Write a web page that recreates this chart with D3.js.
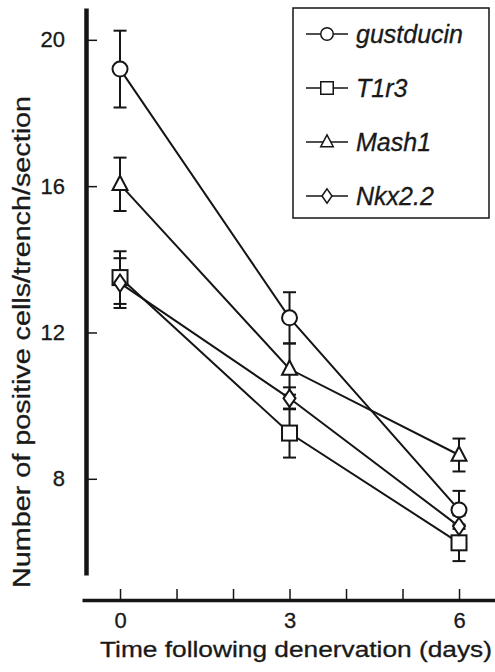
<!DOCTYPE html>
<html>
<head>
<meta charset="utf-8">
<script src="https://cdn.jsdelivr.net/npm/d3@7"></script>
<style>
  html, body { margin: 0; padding: 0; background: #fff; }
  svg { display: block; }
  text { font-family: "Liberation Sans", Arial, Helvetica, sans-serif; fill: #1a1a1a; }
</style>
</head>
<body>
<svg id="chart" width="495" height="672"></svg>
<script>
// ---- data ----
const days = [0, 3, 6];
const seriesNames = ["gustducin", "T1r3", "Mash1", "Nkx2.2"];
const symbols = ["circle", "square", "triangle", "diamond"];
const gustducin = [19.2, 12.4, 7.15];
const gustducinErr = [1.05, 0.7, 0.52];
const t1r3 = [13.5, 9.25, 6.25];
const t1r3Err = [0.72, 0.67, 0.5];
const mash1 = [16.05, 11.0, 8.65];
const mash1Err = [0.73, 0.7, 0.45];
const nkx22 = [13.35, 10.2, 6.7];
const nkx22Err = [0.68, 0.3, 0.3];
const xTickValues = [0, 1, 2, 3, 4, 5, 6];
const xTickLabels = ["0", "", "", "3", "", "", "6"];
const yTickValues = [8, 12, 16, 20];
const xTitle = "Time following denervation (days)";
const yTitle = "Number of positive cells/trench/section";

const seriesVals = [gustducin, t1r3, mash1, nkx22];
const seriesErrs = [gustducinErr, t1r3Err, mash1Err, nkx22Err];

const svg = d3.select("#chart");
const ink = "#151515";

const x = d3.scaleLinear().domain([-0.673, 6.637]).range([82, 495]);
const y = d3.scaleLinear().domain([5.37, 20.87]).range([575, 8]);

// ---- y axis ----
const yAxis = d3.axisLeft(y).tickValues(yTickValues).tickSize(-11).tickSizeOuter(0).tickPadding(21);
const gy = svg.append("g").attr("transform", `translate(86,0)`).call(yAxis);
gy.select(".domain").attr("stroke", ink).attr("stroke-width", 4.5);
gy.selectAll(".tick line").attr("stroke", ink).attr("stroke-width", 1.5);
gy.selectAll(".tick text").attr("font-size", 22).attr("fill", ink)
  .attr("stroke", ink).attr("stroke-width", 0.3)
  .style("font-family", '"Liberation Sans", Arial, sans-serif');

// ---- x axis ----
const xAxis = d3.axisBottom(x).tickValues(xTickValues).tickSize(-11).tickSizeOuter(0).tickPadding(12)
  .tickFormat((d, i) => xTickLabels[i]);
const gx = svg.append("g").attr("transform", `translate(0,600)`).call(xAxis);
gx.select(".domain").attr("stroke", ink).attr("stroke-width", 3.5);
gx.selectAll(".tick line").attr("stroke", ink).attr("stroke-width", 1.5);
gx.selectAll(".tick text").attr("font-size", 22).attr("fill", ink)
  .attr("stroke", ink).attr("stroke-width", 0.3)
  .style("font-family", '"Liberation Sans", Arial, sans-serif');

// ---- titles ----
svg.append("text").attr("x", 296).attr("y", 657).attr("text-anchor", "middle")
  .attr("font-size", 22).attr("textLength", 392).attr("lengthAdjust", "spacingAndGlyphs")
  .attr("stroke", ink).attr("stroke-width", 0.3)
  .text(xTitle);
svg.append("text").attr("transform", "translate(30,342) rotate(-90)").attr("text-anchor", "middle")
  .attr("font-size", 23).attr("textLength", 492).attr("lengthAdjust", "spacingAndGlyphs")
  .attr("stroke", ink).attr("stroke-width", 0.3)
  .text(yTitle);

// ---- marker drawing ----
function drawMarker(g, type, cx, cy, s) {
  if (type === "circle") {
    g.append("circle").attr("cx", cx).attr("cy", cy).attr("r", s / 2);
  } else if (type === "square") {
    g.append("rect").attr("x", cx - s / 2).attr("y", cy - s / 2).attr("width", s).attr("height", s);
  } else if (type === "triangle") {
    const h = s * 0.95;
    g.append("path").attr("d", `M${cx},${cy - h * 0.6}L${cx + s / 2},${cy + h * 0.4}L${cx - s / 2},${cy + h * 0.4}Z`);
  } else if (type === "diamond") {
    const w = s * 0.8, h = s * 1.15;
    g.append("path").attr("d", `M${cx},${cy - h / 2}L${cx + w / 2},${cy}L${cx},${cy + h / 2}L${cx - w / 2},${cy}Z`);
  }
}

// ---- series ----
const line = d3.line().x((d, i) => x(days[i])).y(d => y(d));
seriesVals.forEach((vals, si) => {
  svg.append("path").datum(vals).attr("d", line)
    .attr("fill", "none").attr("stroke", ink).attr("stroke-width", 2);
});
// error bars
seriesVals.forEach((vals, si) => {
  const errs = seriesErrs[si];
  const g = svg.append("g").attr("stroke", ink).attr("stroke-width", 2);
  vals.forEach((v, i) => {
    const cx = x(days[i]);
    const top = y(v + errs[i]), bot = y(v - errs[i]);
    g.append("line").attr("x1", cx).attr("x2", cx).attr("y1", top).attr("y2", bot);
    g.append("line").attr("x1", cx - 6.5).attr("x2", cx + 6.5).attr("y1", top).attr("y2", top);
    g.append("line").attr("x1", cx - 6.5).attr("x2", cx + 6.5).attr("y1", bot).attr("y2", bot);
  });
});
// markers
seriesVals.forEach((vals, si) => {
  const g = svg.append("g").attr("fill", "#fff").attr("stroke", ink).attr("stroke-width", 2);
  vals.forEach((v, i) => drawMarker(g, symbols[si], x(days[i]), y(v), 15));
});

// ---- legend ----
const lg = svg.append("g");
lg.append("rect").attr("x", 293).attr("y", 8).attr("width", 196).attr("height", 210)
  .attr("fill", "#fff").attr("stroke", ink).attr("stroke-width", 1.5);
seriesNames.forEach((name, i) => {
  const cy = 34 + i * 54;
  lg.append("line").attr("x1", 306).attr("x2", 348).attr("y1", cy).attr("y2", cy)
    .attr("stroke", ink).attr("stroke-width", 1.5);
  const mg = lg.append("g").attr("fill", "#fff").attr("stroke", ink).attr("stroke-width", 1.5);
  drawMarker(mg, symbols[i], 327, cy, 12.5);
  lg.append("text").attr("x", 356).attr("y", cy).attr("dy", "0.35em")
    .attr("font-size", 25).attr("font-style", "italic")
    .attr("stroke", ink).attr("stroke-width", 0.3).text(name);
});
</script>
</body>
</html>
